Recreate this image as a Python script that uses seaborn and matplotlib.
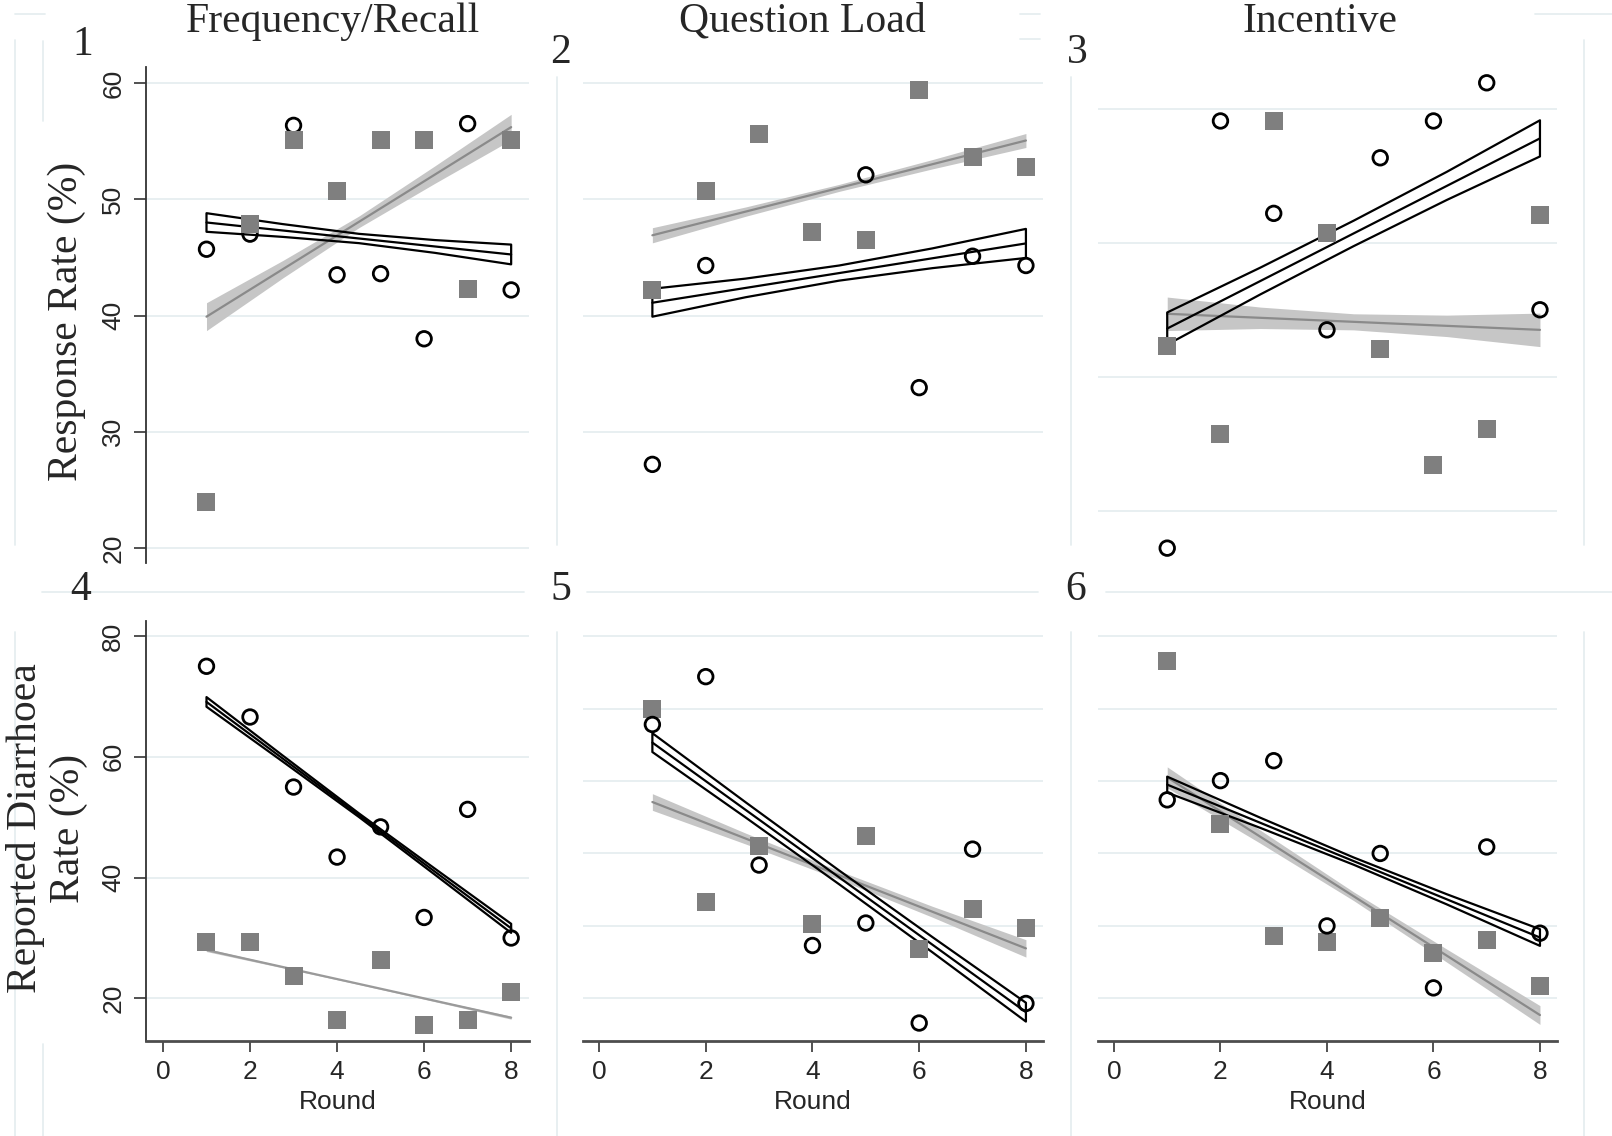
import numpy as np
import pandas as pd
import matplotlib
matplotlib.use("Agg")
import matplotlib.pyplot as plt
from matplotlib.lines import Line2D
import seaborn as sns

W, H = 1612, 1136

# ---- data ------------------------------------------------------------------
ROUNDS = [1, 2, 3, 4, 5, 6, 7, 8]
CI_X = [1, 2.75, 4.5, 6.25, 8]          # where the CI half widths were read
FIT_X = [1, 8]                           # fitted line end points

# 1: Frequency/Recall - response rate
p1_circle = [45.7, 47.0, 56.35, 43.5, 43.6, 38.0, 56.5, 42.2]
p1_square = [24.0, 47.9, 55.1, 50.7, 55.1, 55.1, 42.3, 55.1]
p1_circle_fit, p1_circle_hw = [48.0, 45.25], [0.8, 0.55, 0.4, 0.55, 0.85]
p1_square_fit, p1_square_hw = [39.9, 56.2], [1.2, 0.75, 0.5, 0.75, 1.1]

# 2: Question Load - response rate
p2_circle = [27.2, 44.3, np.nan, np.nan, 52.1, 33.8, 45.1, 44.3]
p2_square = [42.2, 50.7, 55.6, 47.2, 46.5, 59.4, 53.6, 52.8]
p2_circle_fit, p2_circle_hw = [41.1, 46.2], [1.2, 0.8, 0.65, 0.85, 1.25]
p2_square_fit, p2_square_hw = [46.9, 55.05], [0.65, 0.4, 0.3, 0.4, 0.6]

# 3: Incentive - response rate
p3_circle = [17.2, 49.1, 42.2, 33.5, 46.35, 49.1, 51.95, 35.0]
p3_square = [32.3, 25.7, 49.1, 40.7, 32.05, 23.4, 26.1, 42.1]
p3_circle_fit, p3_circle_hw = [33.6, 47.8], [1.2, 1.0, 0.95, 1.05, 1.35]
p3_square_fit, p3_square_hw = [34.7, 33.5], [1.25, 0.8, 0.6, 0.8, 1.25]

# 4: Frequency/Recall - reported diarrhoea
p4_circle = [75.0, 66.6, 55.0, 43.4, 48.4, 33.4, 51.3, 30.0]
p4_square = [29.3, 29.3, 23.7, 16.5, 26.3, 15.6, 16.5, 21.0]
p4_circle_fit, p4_circle_hw = [69.1, 31.6], [0.8, 0.5, 0.3, 0.5, 0.75]
p4_square_fit, p4_square_hw = [28.0, 16.8], [0.25, 0.15, 0.1, 0.15, 0.25]

# 5: Question Load - reported diarrhoea
p5_circle = [57.8, 64.4, 38.4, 27.3, 30.4, 16.6, 40.6, 19.3]
p5_square = [59.9, 33.3, 41.05, 30.3, 42.4, 26.8, 32.3, 29.7]
p5_circle_fit, p5_circle_hw = [55.3, 18.1], [1.3, 1.05, 0.95, 1.05, 1.3]
p5_square_fit, p5_square_hw = [47.1, 26.9], [1.15, 0.75, 0.6, 0.75, 1.2]

# 6: Incentive - reported diarrhoea
p6_circle = [47.4, 50.05, 52.8, 30.0, 40.0, 21.45, 40.9, 29.0]
p6_square = [66.6, 44.0, 28.6, 27.75, 31.1, 26.2, 28.1, 21.65]
p6_circle_fit, p6_circle_hw = [49.5, 28.4], [1.1, 0.7, 0.5, 0.7, 1.15]
p6_square_fit, p6_square_hw = [50.5, 17.7], [1.45, 0.9, 0.6, 0.9, 1.3]

col_titles = ["Frequency/Recall", "Question Load", "Incentive"]
panel_numbers = ["1", "2", "3", "4", "5", "6"]
x_ticks = [0, 2, 4, 6, 8]

# ---- style -------------------------------------------------------------------
sns.set_style("white")
plt.rcParams["font.family"] = ["Liberation Sans", "DejaVu Sans"]
SERIF = ["Liberation Serif", "DejaVu Serif"]
GRID = "#e4ecef"
FAINT = "#e6eef0"
SQ_GRAY = "#7f7f7f"
BAND_GRAY = "#c6c6c6"
LINE_GRAY = "#8a8a8a"

fig = plt.figure(figsize=(W / 100, H / 100), dpi=100)


def px_axes(left, top, right, bottom):
    return fig.add_axes([left / W, 1 - bottom / H, (right - left) / W, (bottom - top) / H])


def faint(x0, y0, x1, y1):
    fig.add_artist(Line2D([x0 / W, x1 / W], [1 - y0 / H, 1 - y1 / H],
                          transform=fig.transFigure, color=FAINT, lw=1.3, zorder=0))


def draw_fit(ax, fit, hw, black, line_gray=LINE_GRAY):
    xs = np.array(CI_X)
    mid = np.interp(xs, FIT_X, fit)
    lo, hi = mid - np.array(hw), mid + np.array(hw)
    if black:
        ax.fill_between(xs, lo, hi, facecolor="white", edgecolor="none", zorder=2)
        ax.fill_between(xs, lo, hi, facecolor="none", edgecolor="black", linewidth=1.6, zorder=4)
        sns.lineplot(x=FIT_X, y=fit, color="black", lw=1.6, ax=ax, zorder=4)
    else:
        ax.fill_between(xs, lo, hi, color=BAND_GRAY, lw=0, zorder=3)
        sns.lineplot(x=FIT_X, y=fit, color=line_gray, lw=1.6, ax=ax, zorder=3.5)


def draw_points(ax, circles, squares, squares_on_top):
    df = pd.DataFrame({"round": ROUNDS, "circle": circles, "square": squares})
    zc, zs = (5, 6) if squares_on_top else (6, 5)
    sns.scatterplot(data=df, x="round", y="square", marker="s", s=150, color=SQ_GRAY,
                    linewidth=0, ax=ax, zorder=zs)
    sns.scatterplot(data=df, x="round", y="circle", marker="o", s=110, facecolor="none",
                    edgecolor="black", linewidth=2.0, ax=ax, zorder=zc)


panels = [
    dict(circ=p1_circle, sq=p1_square, cf=p1_circle_fit, ch=p1_circle_hw, sf=p1_square_fit, sh=p1_square_hw,
         box=(146, 67, 529, 563), xlim=(-0.39, 8.41), ylim=(18.72, 61.37), grid=[20, 30, 40, 50, 60]),
    dict(circ=p2_circle, sq=p2_square, cf=p2_circle_fit, ch=p2_circle_hw, sf=p2_square_fit, sh=p2_square_hw,
         box=(583, 67, 1043, 563), xlim=(-0.30, 8.32), ylim=(18.72, 61.37), grid=[30, 40, 50, 60]),
    dict(circ=p3_circle, sq=p3_square, cf=p3_circle_fit, ch=p3_circle_hw, sf=p3_square_fit, sh=p3_square_hw,
         box=(1098, 67, 1557, 563), xlim=(-0.30, 8.32), ylim=(16.09, 53.13), grid=[20, 30, 40, 50]),
    dict(circ=p4_circle, sq=p4_square, cf=p4_circle_fit, ch=p4_circle_hw, sf=p4_square_fit, sh=p4_square_hw,
         box=(146, 621, 529, 1041), xlim=(-0.39, 8.41), ylim=(12.94, 82.5), grid=[20, 40, 60, 80]),
    dict(circ=p5_circle, sq=p5_square, cf=p5_circle_fit, ch=p5_circle_hw, sf=p5_square_fit, sh=p5_square_hw,
         box=(583, 621, 1043, 1041), xlim=(-0.30, 8.32), ylim=(14.12, 72.08), grid=[20, 30, 40, 50, 60, 70]),
    dict(circ=p6_circle, sq=p6_square, cf=p6_circle_fit, ch=p6_circle_hw, sf=p6_square_fit, sh=p6_square_hw,
         box=(1098, 621, 1557, 1041), xlim=(-0.30, 8.32), ylim=(14.12, 72.08), grid=[20, 30, 40, 50, 60, 70]),
]

# faint frame remnants of the original composite
for x in (15, 557, 1071, 1584):
    faint(x, 40 if x not in (557, 1071) else 77, x, 545)
    faint(x, 632, x, 1136)
faint(43, 41, 43, 121)
faint(43, 1044, 43, 1136)
faint(42, 592, 524, 592)
faint(587, 592, 1038, 592)
faint(1106, 592, 1612, 592)
faint(15, 14, 45, 14)
faint(1535, 14, 1612, 14)
faint(1020, 14, 1040, 14)
faint(1020, 39, 1040, 39)

for i, p in enumerate(panels):
    ax = px_axes(*p["box"])
    ax.set_facecolor("none")
    ax.set_xlim(*p["xlim"])
    ax.set_ylim(*p["ylim"])
    ax.set_yticks(p["grid"])
    ax.set_xticks(x_ticks)
    ax.grid(axis="y", color=GRID, lw=1.2, zorder=0)
    ax.grid(axis="x", visible=False)
    for s in ("top", "right"):
        ax.spines[s].set_visible(False)

    top_row = i < 3
    first_col = i % 3 == 0

    draw_fit(ax, p["sf"], p["sh"], black=False, line_gray="#9a9a9a" if i == 3 else LINE_GRAY)
    draw_fit(ax, p["cf"], p["ch"], black=True)
    draw_points(ax, p["circ"], p["sq"], squares_on_top=top_row)

    ax.set_xlabel("")
    ax.set_ylabel("")

    if first_col:
        ax.spines["left"].set_color("#333333")
        ax.spines["left"].set_linewidth(1.3)
        ax.tick_params(axis="y", left=True, length=9, width=1.2, color="#333333",
                       labelsize=19, labelrotation=90, pad=6)
        for lab in ax.get_yticklabels():
            lab.set_va("center")
    else:
        ax.spines["left"].set_visible(False)
        ax.tick_params(axis="y", left=False, labelleft=False)

    if top_row:
        ax.spines["bottom"].set_visible(False)
        ax.tick_params(axis="x", bottom=False, labelbottom=False)
    else:
        ax.spines["bottom"].set_color("#4d4d4d")
        ax.spines["bottom"].set_linewidth(2.0)
        ax.tick_params(axis="x", bottom=True, length=8, width=1.2, color="#333333",
                       labelsize=19, pad=6)
        ax.set_xlabel("Round", fontsize=19, labelpad=4)

# ---- figure level text ---------------------------------------------------------
for title, xc in zip(col_titles, (333, 802, 1320)):
    fig.text(xc / W, 1 - 32 / H, title, family=SERIF, fontsize=30, ha="center", va="baseline")

num_pos = [(83, 55), (561, 63), (1077, 63), (81, 600), (561, 600), (1076, 600)]
for num, (xn, yn) in zip(panel_numbers, num_pos):
    fig.text(xn / W, 1 - yn / H, num, family=SERIF, fontsize=30, ha="center", va="baseline")

fig.text(67 / W, 1 - 321 / H, "Response Rate (%)", family=SERIF, fontsize=30,
         rotation=90, ha="center", va="center")
fig.text(47 / W, 1 - 828 / H, "Reported Diarrhoea\nRate (%)", family=SERIF, fontsize=30,
         rotation=90, ha="center", va="center", multialignment="center", linespacing=1.15)

fig.savefig("out.png", dpi=100, facecolor="white")
